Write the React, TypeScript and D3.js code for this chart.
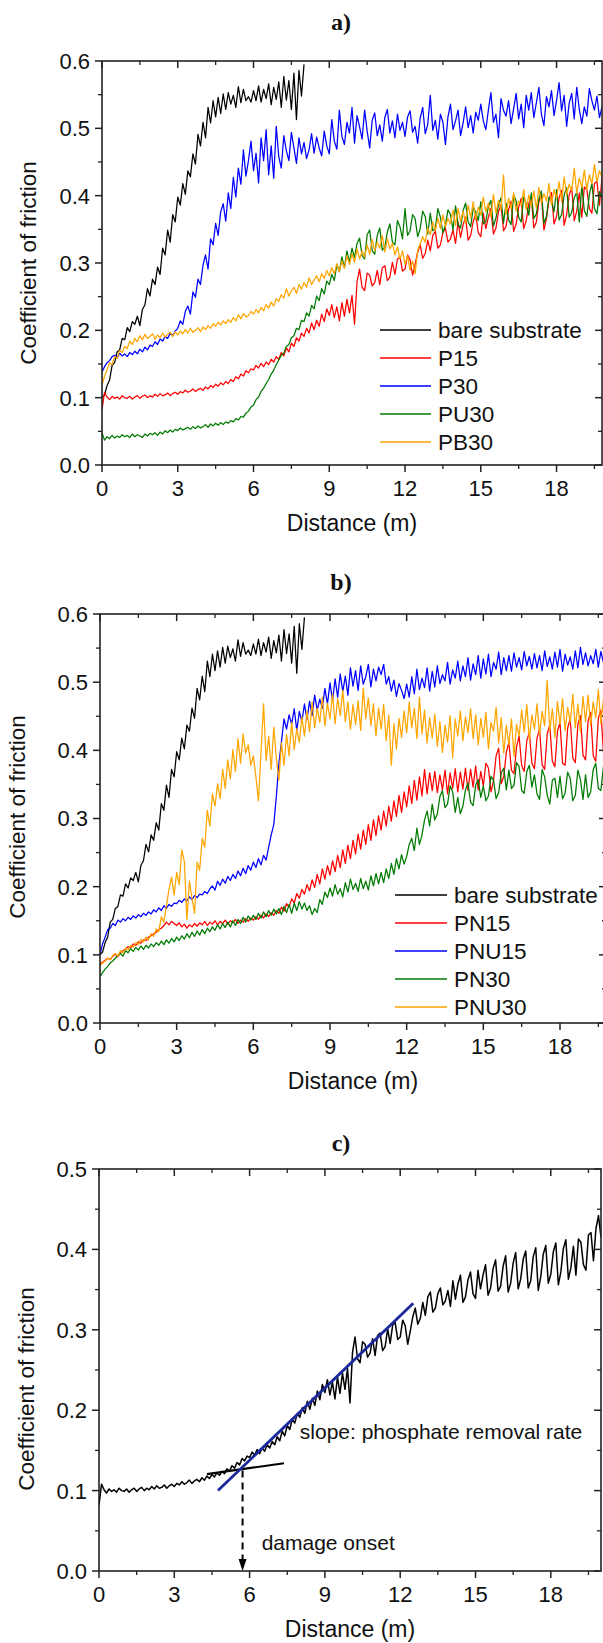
import React from 'react';
import * as d3 from 'd3';

// sampling step of every friction trace (m)
const STEP = 0.1;

// coefficient of friction x 1000, one value every STEP metres from 0 m
const bareSubstrate = [
  100, 104, 118, 126, 148, 152, 168, 171, 188, 186,
  204, 198, 213, 209, 221, 207, 231, 238, 262, 251,
  276, 268, 294, 283, 322, 312, 349, 331, 372, 361,
  398, 386, 418, 402, 437, 428, 462, 447, 491, 474,
  509, 486, 531, 508, 541, 517, 546, 522, 551, 528,
  553, 536, 549, 531, 562, 538, 558, 541, 547, 539,
  556, 541, 563, 539, 558, 544, 566, 535, 561, 543,
  569, 531, 577, 542, 571, 528, 582, 513, 586, 548,
  595,
];

const p15 = [
  82, 108, 101, 97, 102, 99, 101, 98, 103, 100,
  99, 102, 98, 101, 103, 99, 102, 104, 100, 103,
  101, 105, 102, 106, 103, 104, 107, 103, 106, 108,
  105, 109, 107, 111, 108, 110, 113, 109, 112, 114,
  111, 116, 113, 118, 115, 120, 117, 122, 119, 124,
  121, 127, 124, 131, 128, 135, 132, 140, 137, 143,
  141, 148, 144, 151, 146, 153, 149, 157, 153, 161,
  157, 167, 162, 174, 168, 181, 176, 189, 184, 196,
  191, 203, 196, 211, 201, 215, 206, 224, 213, 232,
  222, 238, 219, 235, 214, 241, 221, 246, 226, 252,
  209, 272, 291, 264, 259, 285, 282, 266, 271, 289,
  268, 293, 296, 274, 279, 301, 283, 306, 309, 288,
  291, 312, 305, 282, 298, 316, 327, 307, 314, 334,
  318, 341, 347, 322, 327, 345, 352, 331, 336, 349,
  329, 361, 338, 357, 368, 334, 341, 362, 372, 345,
  339, 374, 351, 368, 381, 343, 352, 376, 387, 348,
  354, 379, 392, 347, 358, 383, 396, 351, 363, 388,
  398, 352, 361, 391, 402, 349, 366, 394, 405, 358,
  369, 397, 408, 356, 372, 401, 412, 363, 377, 404,
  368, 413, 409, 381, 374, 418, 421, 386, 426, 442,
  415,
];

const p30 = [
  138, 146, 152, 155, 161, 163, 159, 166, 162, 165,
  161, 167, 164, 169, 165, 172, 168, 175, 171, 178,
  176, 183, 179, 187, 184, 191, 188, 196, 192, 199,
  203, 214, 209, 228, 236, 224, 257, 249, 276, 268,
  297, 312, 291, 336, 327, 359, 341, 376, 388, 362,
  404, 381, 427, 398, 441, 417, 468, 429, 452, 481,
  437, 463, 419, 486, 452, 498, 431, 474, 426, 503,
  458, 441, 489, 467, 452, 494, 471, 448, 486, 462,
  479, 455, 468, 492, 463, 487, 471, 459, 496, 474,
  462, 513, 481, 469, 527, 488, 476, 509, 493, 531,
  478, 519, 502, 484, 527, 496, 471, 512, 523, 489,
  505, 481, 516, 528, 493, 511, 486, 521, 497, 509,
  488, 517, 526, 494, 503, 478, 515, 531, 492, 506,
  549, 497, 512, 484, 521, 509, 476, 517, 536, 498,
  511, 527, 489, 508, 532, 501, 519, 493, 524, 512,
  536, 511, 498, 527, 553, 509, 521, 486, 544, 527,
  518, 541, 507, 529, 552, 514, 536, 501, 549, 527,
  553, 516, 538, 561, 521, 504, 547, 532, 556, 519,
  541, 568, 526, 549, 503, 537, 552, 514, 561, 528,
  507, 532, 518, 559, 541, 527, 548, 516, 532, 521,
  518,
];

const pu30 = [
  48, 37, 42, 39, 44, 40, 43, 41, 45, 42,
  44, 41, 46, 42, 45, 43, 41, 46, 43, 47,
  45, 48, 44, 49, 46, 51, 48, 52, 49, 53,
  51, 55, 52, 54, 56, 53, 57, 54, 58, 55,
  57, 60, 56, 61, 58, 62, 59, 63, 60, 64,
  62, 66, 64, 69, 67, 72, 71, 77, 80, 86,
  89, 97, 101, 109, 114, 121, 127, 135, 141, 149,
  156, 163, 166, 176, 179, 189, 192, 203, 201, 215,
  213, 226, 221, 237, 232, 251, 244, 262, 254, 273,
  268, 283, 274, 298, 287, 309, 293, 318, 301, 322,
  308, 329, 337, 311, 306, 342, 349, 318, 313, 341,
  352, 319, 324, 346, 358, 331, 327, 363, 354, 336,
  381, 341, 348, 372, 366, 339, 351, 377, 369, 343,
  374, 348, 351, 381, 368, 345, 356, 379, 372, 349,
  385, 357, 352, 378, 389, 361, 354, 382, 376, 363,
  391, 358, 362, 384, 393, 355, 367, 386, 397, 359,
  389, 364, 357, 401, 392, 368, 361, 398, 388, 371,
  404, 366, 373, 395, 407, 359, 369, 398, 392, 376,
  409, 364, 372, 401, 412, 368, 375, 397, 405, 361,
  415, 378, 369, 402, 418, 381, 373, 406, 396, 384,
  401,
];

const pb30 = [
  118, 132, 141, 152, 149, 161, 158, 170, 167, 176,
  173, 184, 179, 188, 183, 192, 186, 194, 188, 191,
  195, 187, 193, 189, 196, 190, 194, 197, 191, 198,
  193, 199, 195, 201, 196, 203, 197, 200, 204, 198,
  205, 201, 207, 203, 210, 206, 212, 208, 214, 210,
  216, 212, 219, 214, 223, 217, 225, 220, 222, 228,
  224, 231, 226, 234, 229, 238, 233, 242, 236, 247,
  243, 253, 248, 262, 251, 258, 264, 255, 268, 261,
  271, 264, 278, 268, 275, 281, 272, 284, 277, 289,
  281, 293, 284, 299, 287, 303, 292, 311, 298, 314,
  301, 321, 306, 318, 309, 327, 313, 335, 318, 331,
  322, 341, 316, 336, 321, 329, 312, 324, 306, 318,
  298, 311, 289, 303, 284, 319, 328, 339, 331, 352,
  342, 361, 348, 367, 351, 372, 354, 366, 358, 379,
  356, 381, 362, 377, 359, 386, 367, 391, 364, 383,
  371, 398, 376, 389, 368, 402, 374, 393, 379, 431,
  372, 396, 381, 404, 377, 392, 385, 409, 379, 401,
  384, 407, 381, 412, 389, 403, 392, 418, 386, 409,
  396, 421, 392, 428, 401, 417, 407, 441, 403, 426,
  412, 438, 409, 431, 418, 446, 421, 437, 427, 451,
  443,
];

const pn15 = [
  86, 89, 92, 95, 93, 98, 101, 97, 104, 106,
  109, 112, 110, 116, 114, 119, 117, 122, 121, 126,
  128, 131, 133, 137, 139, 143, 148, 144, 149, 146,
  143, 147, 141, 145, 139, 144, 141, 146, 142, 147,
  144, 149, 143, 148, 145, 150, 144, 149, 146, 151,
  145, 150, 147, 152, 146, 151, 148, 153, 149, 154,
  151, 156, 152, 158, 154, 160, 156, 162, 158, 165,
  161, 170, 164, 175, 170, 182, 176, 190, 183, 196,
  189, 203, 194, 210, 199, 218, 204, 226, 211, 231,
  217, 238, 222, 246, 228, 254, 234, 261, 241, 268,
  248, 277, 255, 283, 262, 291, 268, 298, 275, 304,
  283, 311, 289, 318, 296, 326, 303, 334, 309, 339,
  317, 348, 322, 356, 327, 361, 333, 372, 336, 367,
  341, 369, 338, 364, 342, 371, 336, 367, 344, 373,
  339, 368, 343, 374, 341, 372, 346, 377, 342, 369,
  348, 381, 374, 339, 356, 392, 403, 351, 362, 397,
  412, 371, 366, 405, 421, 378, 369, 414, 426, 381,
  373, 418, 431, 379, 372, 424, 437, 384, 376, 428,
  441, 381, 378, 433, 446, 389, 382, 438, 451, 393,
  386, 443, 456, 392, 384, 447, 459, 397, 391, 452,
  437,
];

const pnu15 = [
  100, 116, 126, 137, 139, 146, 143, 151, 148, 153,
  150, 155, 152, 157, 154, 159, 156, 161, 158, 163,
  160, 166, 163, 169, 165, 172, 168, 174, 171, 176,
  175, 180, 177, 182, 179, 185, 181, 187, 184, 189,
  188, 193, 190, 197, 201, 195, 208, 202, 211, 205,
  215, 209, 218, 212, 223, 216, 227, 219, 231, 224,
  236, 228, 241, 232, 246, 239, 258, 276, 291, 332,
  381, 412, 446, 431, 452, 438, 461, 429, 457, 442,
  468, 445, 472, 451, 481, 459, 475, 462, 491, 468,
  499, 473, 505, 478, 512, 486, 509, 481, 521, 494,
  517, 488, 524, 497, 508, 526, 493, 519, 502, 522,
  511, 526, 497, 508, 487, 503, 479, 498, 488, 476,
  497, 478, 508, 483, 519, 489, 506, 492, 521, 487,
  516, 493, 524, 498, 511, 502, 529, 497, 518, 506,
  531, 502, 524, 508, 536, 503, 527, 511, 539, 506,
  534, 512, 541, 508, 529, 519, 544, 511, 536, 517,
  539, 516, 543, 522, 536, 518, 545, 524, 538, 519,
  542, 521, 539, 517, 546, 523, 537, 519, 544, 522,
  548, 516, 541, 525, 537, 519, 546, 521, 551, 526,
  543, 524, 539, 527, 548, 522, 545, 529, 551, 531,
  544,
];

const pn30 = [
  68, 74, 79, 83, 88, 91, 95, 99, 102, 98,
  106, 103, 109, 105, 111, 107, 113, 108, 114, 110,
  116, 112, 118, 114, 120, 115, 122, 117, 124, 119,
  126, 121, 128, 123, 131, 125, 133, 127, 135, 129,
  137, 131, 139, 134, 141, 136, 144, 138, 146, 140,
  148, 141, 150, 143, 152, 146, 155, 148, 157, 151,
  158, 152, 161, 154, 163, 156, 165, 158, 167, 160,
  168, 159, 171, 162, 174, 161, 176, 165, 178, 167,
  176, 165, 172, 159, 168, 162, 181, 174, 192, 184,
  198, 186, 203, 189, 197, 185, 206, 192, 211, 196,
  205, 193, 212, 197, 208, 195, 216, 201, 219, 204,
  221, 206, 226, 212, 234, 218, 241, 226, 247, 233,
  244, 262, 271, 253, 286, 262, 276, 298, 311, 289,
  321, 298, 307, 332, 341, 316, 321, 348, 339, 309,
  331, 307, 318, 342, 352, 324, 319, 349, 357, 331,
  348, 326, 333, 362, 356, 329, 338, 367, 374, 342,
  371, 344, 349, 382, 376, 341, 337, 369, 378, 346,
  364, 336, 328, 372, 361, 334, 321, 356, 359, 331,
  362, 329, 337, 368, 359, 326, 334, 371, 357, 328,
  364, 331, 339, 372, 381, 344, 341, 376, 392, 348,
  338,
];

const pnu30 = [
  84, 88, 91, 95, 93, 99, 102, 98, 106, 103,
  110, 107, 114, 111, 118, 115, 123, 119, 126, 122,
  131, 127, 138, 134, 156, 148, 172, 196, 214, 188,
  221, 203, 254, 237, 152, 208, 183, 161, 236, 224,
  271, 258, 312, 289, 336, 318, 351, 329, 372, 344,
  386, 358, 401, 369, 417, 381, 424, 396, 408, 378,
  392, 361, 326, 397, 468, 385, 421, 372, 434, 389,
  356, 411, 378, 423, 392, 441, 401, 432, 412, 449,
  421, 458, 427, 471, 433, 462, 441, 478, 436, 469,
  446, 483, 439, 476, 451, 488, 442, 471, 431, 467,
  438, 473, 429, 491, 446, 477, 436, 468, 421, 462,
  431, 467, 414, 452, 378, 439, 402, 447, 419, 458,
  426, 471, 433, 462, 417, 478, 424, 459, 411, 448,
  418, 453, 406, 442, 397, 437, 412, 451, 389, 446,
  421, 458, 414, 449, 426, 461, 417, 452, 408, 447,
  419, 456, 402, 441, 428, 463, 411, 448, 396, 437,
  408, 446, 391, 438, 421, 459, 427, 467, 416, 452,
  431, 468, 423, 457, 436, 503, 428, 461, 419, 472,
  438, 476, 429, 463, 441, 482, 433, 468, 427, 479,
  442, 481, 436, 471, 448, 489, 439, 476, 451, 493,
  462,
];

const namesA = ['bare substrate', 'P15', 'P30', 'PU30', 'PB30'];
const namesB = ['bare substrate', 'PN15', 'PNU15', 'PN30', 'PNU30'];
const colors = ['#000000', '#ff0000', '#0000ff', '#007a00', '#ffa500'];

const xTicks = [0, 3, 6, 9, 12, 15, 18];
const xMinor = [1.5, 4.5, 7.5, 10.5, 13.5, 16.5, 19.5];

// panel c annotations, in data units (m, COF)
const slopeFit = [[4.74, 0.1], [12.52, 0.333]];
const baseFit = [[4.3, 0.1205], [7.37, 0.134]];
const onsetPoint = [5.72, 0.125];
const slopeNote = [8.0, 0.173];
const onsetNote = [6.48, 0.036];

const SANS = '"Liberation Sans", Arial, Helvetica, sans-serif';
const SERIF = '"Liberation Serif", "Times New Roman", serif';

type Box = { left: number; right: number; top: number; bottom: number };

const toPoints = (vals: number[]) => vals.map((v, i) => [i * STEP, v / 1000] as [number, number]);

function Panel(props: {
  id: string;
  title: string;
  titleY: number;
  box: Box;
  xMax: number;
  yMax: number;
  yLabelX: number;
  yLabelY: number;
  series: number[][];
  names?: string[];
  legend?: { x1: number; x2: number; tx: number; y0: number; dy: number };
  lineColors: string[];
  lineWidth: number;
  children?: (x: d3.ScaleLinear<number, number>, y: d3.ScaleLinear<number, number>) => React.ReactNode;
}) {
  const { id, title, titleY, box, xMax, yMax, yLabelX, yLabelY, series, names, legend, lineColors, lineWidth } = props;
  const x = d3.scaleLinear().domain([0, xMax]).range([box.left, box.right]);
  const y = d3.scaleLinear().domain([0, yMax]).range([box.bottom, box.top]);
  const line = d3.line<[number, number]>().x(d => x(d[0])).y(d => y(d[1]));
  const yTicks = d3.range(0, yMax + 0.001, 0.1);
  const yMinor = d3.range(0.05, yMax, 0.1);
  const axisColor = '#222';
  const cx = (box.left + box.right) / 2;

  return (
    <g>
      <defs>
        <clipPath id={`clip-${id}`}>
          <rect x={box.left} y={box.top - 2} width={box.right - box.left} height={box.bottom - box.top + 2} />
        </clipPath>
      </defs>
      <text x={341} y={titleY} textAnchor="middle" fontFamily={SERIF} fontWeight="bold" fontSize={24} fill="#111">
        {title}
      </text>

      <g clipPath={`url(#clip-${id})`}>
        {series.map((s, i) => (
          <path key={i} d={line(toPoints(s)) || ''} fill="none" stroke={lineColors[i]} strokeWidth={lineWidth} strokeLinejoin="round" />
        ))}
      </g>

      {props.children && props.children(x, y)}

      {/* frame */}
      <rect x={box.left} y={box.top} width={box.right - box.left} height={box.bottom - box.top} fill="none" stroke={axisColor} strokeWidth={1.6} />

      {/* bottom / top ticks */}
      {xTicks.map(t => (
        <g key={`xt${t}`}>
          <line x1={x(t)} x2={x(t)} y1={box.bottom} y2={box.bottom + 7} stroke={axisColor} strokeWidth={1.5} />
          <line x1={x(t)} x2={x(t)} y1={box.top} y2={box.top + 7} stroke={axisColor} strokeWidth={1.5} />
          <text x={x(t)} y={box.bottom + 31} textAnchor="middle" fontFamily={SANS} fontSize={22} fill="#111">{t}</text>
        </g>
      ))}
      {xMinor.map(t => (
        <g key={`xm${t}`}>
          <line x1={x(t)} x2={x(t)} y1={box.bottom} y2={box.bottom + 4} stroke={axisColor} strokeWidth={1.3} />
          <line x1={x(t)} x2={x(t)} y1={box.top} y2={box.top + 4} stroke={axisColor} strokeWidth={1.3} />
        </g>
      ))}

      {/* left / right ticks */}
      {yTicks.map(t => (
        <g key={`yt${t.toFixed(2)}`}>
          <line x1={box.left - 7} x2={box.left} y1={y(t)} y2={y(t)} stroke={axisColor} strokeWidth={1.5} />
          <line x1={box.right - 7} x2={box.right} y1={y(t)} y2={y(t)} stroke={axisColor} strokeWidth={1.5} />
          <text x={box.left - 12} y={y(t)} dy="0.36em" textAnchor="end" fontFamily={SANS} fontSize={22} fill="#111">
            {d3.format('.1f')(t)}
          </text>
        </g>
      ))}
      {yMinor.map(t => (
        <g key={`ym${t.toFixed(2)}`}>
          <line x1={box.left - 4} x2={box.left} y1={y(t)} y2={y(t)} stroke={axisColor} strokeWidth={1.3} />
          <line x1={box.right - 4} x2={box.right} y1={y(t)} y2={y(t)} stroke={axisColor} strokeWidth={1.3} />
        </g>
      ))}

      <text x={cx} y={box.bottom + 66} textAnchor="middle" fontFamily={SANS} fontSize={23} fill="#111">Distance (m)</text>
      <text
        transform={`translate(${yLabelX},${yLabelY}) rotate(-90)`}
        dy="0.35em"
        textAnchor="middle"
        fontFamily={SANS}
        fontSize={22.5}
        fill="#111"
      >
        Coefficient of friction
      </text>

      {legend && names && names.map((n, i) => {
        const ly = legend.y0 + i * legend.dy;
        return (
          <g key={n}>
            <line x1={legend.x1} x2={legend.x2} y1={ly} y2={ly} stroke={lineColors[i]} strokeWidth={1.6} />
            <text x={legend.tx} y={ly} dy="0.36em" fontFamily={SANS} fontSize={22.5} fill="#111">{n}</text>
          </g>
        );
      })}
    </g>
  );
}

export default function App() {
  const boxA: Box = { left: 102, right: 602, top: 61, bottom: 465 };
  const boxB: Box = { left: 100, right: 606, top: 614, bottom: 1023 };
  const boxC: Box = { left: 99, right: 601, top: 1169, bottom: 1571 };

  return (
    <svg
      width={603}
      height={1643}
      viewBox="0 0 603 1643"
      style={{ position: 'absolute', left: 0, top: 0, background: '#fff' }}
    >
      <rect width={603} height={1643} fill="#fff" />
      <Panel
        id="a"
        title="a)"
        titleY={30}
        box={boxA}
        xMax={19.8}
        yMax={0.6}
        yLabelX={28}
        yLabelY={263}
        series={[bareSubstrate, p15, p30, pu30, pb30]}
        names={namesA}
        lineColors={colors}
        lineWidth={1.25}
        legend={{ x1: 380, x2: 431, tx: 438, y0: 330, dy: 28 }}
      />
      <Panel
        id="b"
        title="b)"
        titleY={590}
        box={boxB}
        xMax={19.8}
        yMax={0.6}
        yLabelX={17}
        yLabelY={817}
        series={[bareSubstrate, pn15, pnu15, pn30, pnu30]}
        names={namesB}
        lineColors={colors}
        lineWidth={1.25}
        legend={{ x1: 395, x2: 447, tx: 454, y0: 895, dy: 28 }}
      />
      <Panel
        id="c"
        title="c)"
        titleY={1151}
        box={boxC}
        xMax={20}
        yMax={0.5}
        yLabelX={26}
        yLabelY={1389}
        series={[p15]}
        lineColors={['#000000']}
        lineWidth={1.5}
      >
        {(x, y) => {
          const ox = x(onsetPoint[0]);
          const oy = y(onsetPoint[1]);
          const base = y(0);
          return (
            <g>
              <line x1={x(baseFit[0][0])} y1={y(baseFit[0][1])} x2={x(baseFit[1][0])} y2={y(baseFit[1][1])} stroke="#000" strokeWidth={2.2} />
              <line x1={x(slopeFit[0][0])} y1={y(slopeFit[0][1])} x2={x(slopeFit[1][0])} y2={y(slopeFit[1][1])} stroke="#1a2a9c" strokeWidth={2.8} />
              <line x1={ox} y1={oy} x2={ox} y2={base - 10} stroke="#000" strokeWidth={2} strokeDasharray="7,5" />
              <path d={`M${ox - 4},${base - 12} L${ox + 4},${base - 12} L${ox},${base} Z`} fill="#000" />
              <text x={x(slopeNote[0])} y={y(slopeNote[1])} dy="0.36em" fontFamily={SANS} fontSize={21} fill="#111">
                slope: phosphate removal rate
              </text>
              <text x={x(onsetNote[0])} y={y(onsetNote[1])} dy="0.36em" fontFamily={SANS} fontSize={21} fill="#111">
                damage onset
              </text>
            </g>
          );
        }}
      </Panel>
    </svg>
  );
}
